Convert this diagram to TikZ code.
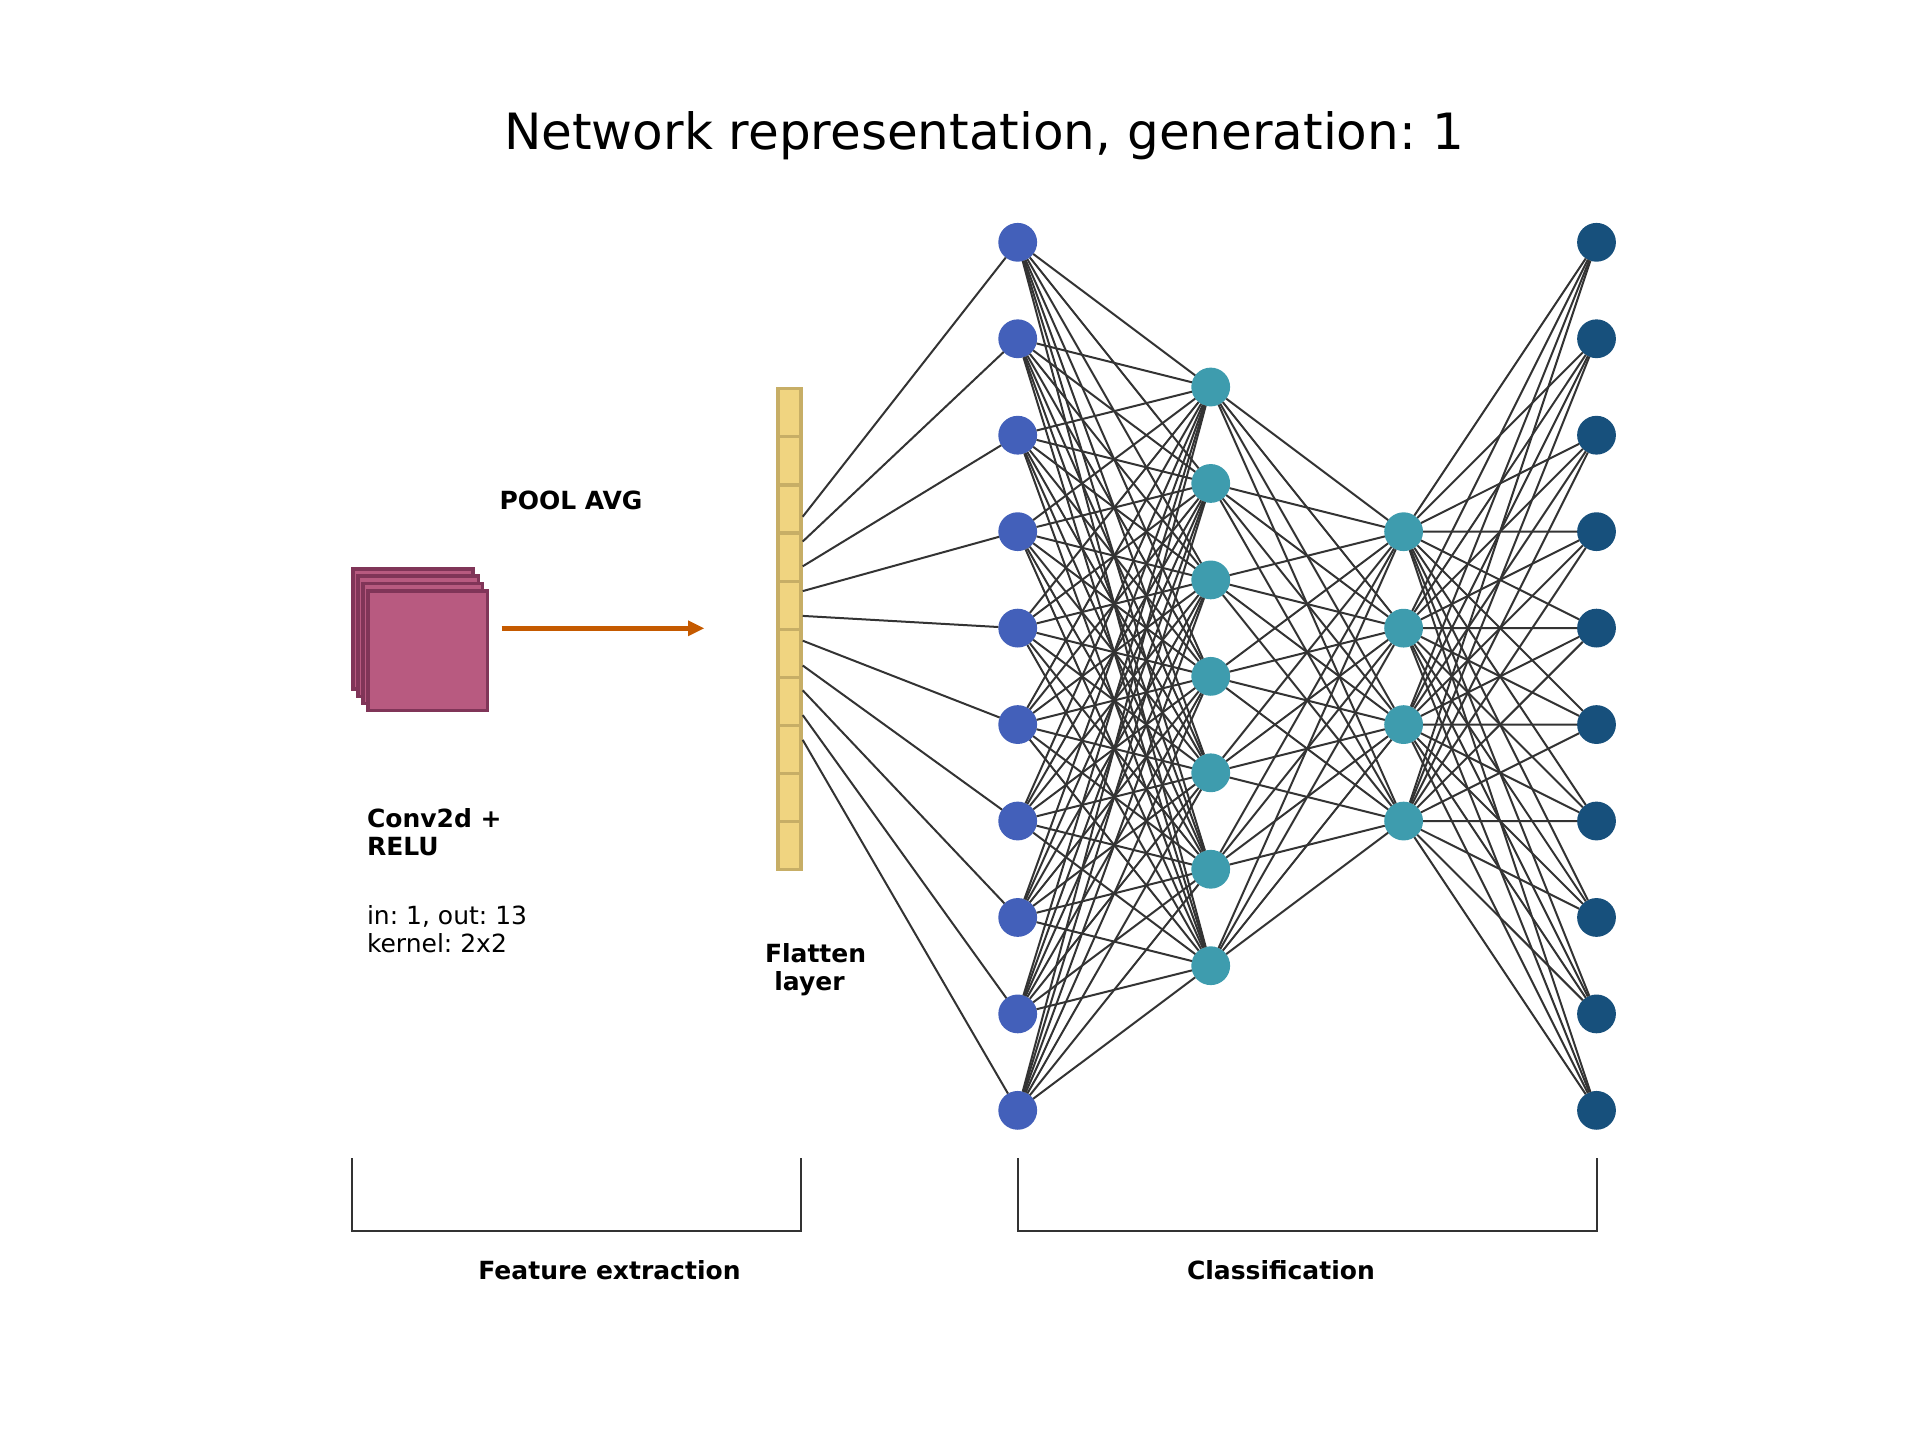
\documentclass[tikz,border=0pt]{standalone}
\usepackage{fontspec}
\setmainfont{DejaVu Sans}
\frenchspacing
\definecolor{cubefill}{HTML}{B85A80}
\definecolor{cubeedge}{HTML}{803558}
\definecolor{cellfill}{HTML}{F0D480}
\definecolor{celledge}{HTML}{C7AE66}
\definecolor{arrowc}{HTML}{C55A00}
\definecolor{nblue}{HTML}{4360BA}
\definecolor{nteal}{HTML}{3E9CAE}
\definecolor{ndark}{HTML}{17507C}
\definecolor{edgec}{HTML}{333333}
\tikzset{
  x=0.5pt,y=-0.5pt,
  neuron/.style={circle,draw=none,minimum size=19.4pt,inner sep=0pt,outer sep=0pt},
  cube/.style={fill=cubefill,draw=cubeedge,line width=1.6pt},
  cell/.style={fill=cellfill,draw=celledge,line width=1.6pt},
  link/.style={draw=edgec,line width=1pt},
  bracket/.style={draw=edgec,line width=1pt},
  bold label/.style={font=\fontsize{12.5}{14}\selectfont\bfseries,inner sep=0pt,outer sep=0pt,align=left},
  plain label/.style={font=\fontsize{12.5}{14}\selectfont,inner sep=0pt,outer sep=0pt,align=left},
}
\begin{document}
\begin{tikzpicture}
\useasboundingbox (0,0) rectangle (1920,1440);
\node[font=\fontsize{25}{28}\selectfont,inner sep=0pt] (title) at (984,135.5) {Network representation, generation: 1};
% cubes
\draw[cube] (353,569) rectangle (473,689);
\draw[cube] (358,576) rectangle (478.3,696.3);
\draw[cube] (363,583.7) rectangle (482.3,703.3);
\draw[cube] (368,591) rectangle (487.3,710.3);
% arrow
\coordinate (arrS) at (501.7,628.3);
\coordinate (arrB) at (688,628.3);
\coordinate (arrT) at (704,628.3);
\draw[draw=arrowc,line width=2.75pt] (arrS) -- (arrB);
\fill[arrowc] (688,620.3) -- (arrT) -- (688,636.3) -- cycle;
% flatten
\foreach \i in {0,...,9}{
  \draw[cell] (778,{388.7+48.1*\i}) rectangle (801,{388.7+48.1*(\i+1)});
}
\foreach \i in {1,...,10}{
  \coordinate (f\i) at (802.7,{516.7+24.8*(\i-1)});
}
% neurons
\foreach \i in {1,...,10}{
  \node[neuron,fill=nblue] (a\i) at (1017.7,{242.3+96.45*(\i-1)}) {};
  \node[neuron,fill=ndark] (d\i) at (1596.5,{242.3+96.45*(\i-1)}) {};
}
\foreach \i in {1,...,7}{
  \node[neuron,fill=nteal] (b\i) at (1210.7,{387+96.45*(\i-1)}) {};
}
\foreach \i in {1,...,4}{
  \node[neuron,fill=nteal] (c\i) at (1403.6,{531.7+96.45*(\i-1)}) {};
}
% links
\foreach \i in {1,...,10}{
  \draw[link] (f\i) -- (a\i);
  \foreach \j in {1,...,7}{ \draw[link] (a\i) -- (b\j); }
  \foreach \j in {1,...,4}{ \draw[link] (c\j) -- (d\i); }
}
\foreach \i in {1,...,7}{
  \foreach \j in {1,...,4}{ \draw[link] (b\i) -- (c\j); }
}
% labels
\node[bold label,anchor=base west] (pool) at (499.5,509) {POOL AVG};
\node[bold label,anchor=north west] (conv) at (367,808.2) {Conv2d +\\RELU};
\node[plain label,anchor=north west] (kern) at (367,905.2) {in: 1, out: 13\\kernel: 2x2};
\node[bold label,anchor=north west] (flat) at (765,943.2) {Flatten\\\hspace*{4.7pt}\ignorespaces layer};
\node[bold label,anchor=base west] (feat) at (478.4,1279.2) {Feature extraction};
\node[bold label,anchor=base west] (clas) at (1187,1279.2) {Classification};
% brackets
\coordinate (b1a) at (352,1158); \coordinate (b1b) at (352,1230.5);
\coordinate (b1c) at (801,1230.5); \coordinate (b1d) at (801,1158);
\coordinate (b2a) at (1018,1158); \coordinate (b2b) at (1018,1230.5);
\coordinate (b2c) at (1596.5,1230.5); \coordinate (b2d) at (1596.5,1158);
\draw[bracket] (b1a) -- (b1b) -- (b1c) -- (b1d);
\draw[bracket] (b2a) -- (b2b) -- (b2c) -- (b2d);
\end{tikzpicture}
\end{document}
